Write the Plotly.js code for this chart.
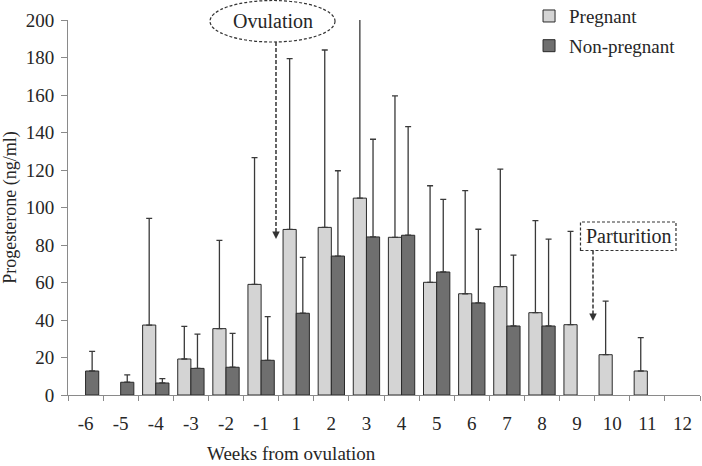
<!DOCTYPE html>
<html>
<head>
<meta charset="utf-8">
<script src="https://cdn.plot.ly/plotly-3.0.1.min.js"></script>
<style>html,body{margin:0;padding:0;background:#fff;}#chart{width:702px;height:466px;}</style>
</head>
<body>
<div id="chart"></div>
<script>
// Weeks from ovulation (categories)
var weeks = ['-6','-5','-4','-3','-2','-1','1','2','3','4','5','6','7','8','9','10','11','12'];
// Pregnant: mean progesterone (ng/ml) and SD (upper error bar)
var pregnantMean = [null, null, 37.3, 19.2, 35.4, 59.0, 88.3, 89.4, 105.0, 84.1, 60.1, 54.0, 57.8, 43.9, 37.5, 21.5, 12.8, null];
var pregnantSD   = [null, null, 56.9, 17.4, 47.1, 67.6, 91.1, 94.6, 110.0, 75.4, 51.5, 55.0, 62.7, 49.1, 49.8, 28.6, 17.8, null];
// Non-pregnant: mean progesterone (ng/ml) and SD
var nonPregnantMean = [12.8, 6.8, 6.4, 14.2, 14.8, 18.5, 43.6, 74.1, 84.3, 85.2, 65.6, 49.1, 36.8, 36.8, null, null, null, null];
var nonPregnantSD   = [10.5, 3.9, 2.3, 18.3, 18.1, 23.3, 29.8, 45.5, 52.1, 57.9, 38.7, 39.3, 37.8, 46.3, null, null, null, null];
var yTicks = [0, 20, 40, 60, 80, 100, 120, 140, 160, 180, 200];

function zeros(a){ return a.map(function(v){ return v === null ? null : 0; }); }

var FONT = 'Liberation Serif, Times New Roman, serif';
var TXT = '#262626';

var traces = [
  {
    type: 'bar', name: 'Pregnant', x: weeks, y: pregnantMean,
    legendgroup: 'p',
    marker: {color: '#d4d4d4', line: {color: '#2a2a2a', width: 1}},
    error_y: {type: 'data', symmetric: false, array: pregnantSD, arrayminus: zeros(pregnantSD),
              color: '#3a3a3a', thickness: 1.3, width: 3}
  },
  {
    type: 'bar', name: 'Non-pregnant', x: weeks, y: nonPregnantMean,
    legendgroup: 'np',
    marker: {color: '#6f6f6f', line: {color: '#2a2a2a', width: 1}},
    error_y: {type: 'data', symmetric: false, array: nonPregnantSD, arrayminus: zeros(nonPregnantSD),
              color: '#3a3a3a', thickness: 1.3, width: 3}
  }
];

var layout = {
  width: 702, height: 466,
  margin: {l: 68, r: 2, t: 20, b: 71, autoexpand: false},
  paper_bgcolor: '#ffffff', plot_bgcolor: '#ffffff',
  font: {family: FONT, size: 19, color: TXT},
  barmode: 'group', bargap: 0.25, bargroupgap: 0,
  showlegend: true,
  legend: {x: 0.7295, y: 1.061, xanchor: 'left', yanchor: 'top', bgcolor: 'rgba(0,0,0,0)',
           font: {family: FONT, size: 19, color: TXT}, traceorder: 'grouped', tracegroupgap: 2},
  xaxis: {
    type: 'category', categoryorder: 'array', categoryarray: weeks,
    tickson: 'boundaries', ticks: 'outside', ticklen: 5, tickcolor: '#8a8a8a', tickwidth: 1,
    showline: true, linecolor: '#8a8a8a', linewidth: 1, showgrid: false, zeroline: false,
    ticklabelstandoff: 11,
    tickfont: {family: FONT, size: 19, color: TXT}
  },
  yaxis: {
    range: [0, 200], tickvals: yTicks, ticks: 'outside', ticklen: 6, tickcolor: '#8a8a8a',
    showline: true, linecolor: '#8a8a8a', linewidth: 1, showgrid: false, zeroline: false,
    ticklabelstandoff: 3,
    tickfont: {family: FONT, size: 19, color: TXT},
    title: {text: 'Progesterone (ng/ml)', font: {family: FONT, size: 18, color: TXT}, standoff: 5}
  },
  shapes: [
    {type: 'circle', xref: 'paper', yref: 'paper', x0: 0.2247, x1: 0.4225, y0: 0.9413, y1: 1.052,
     line: {color: '#333', width: 1.2, dash: '3px,2px'}},
    {type: 'line', xref: 'paper', yref: 'paper', x0: 0.3291, x1: 0.3291, y0: 0.9413, y1: 0.432,
     line: {color: '#333', width: 1.5, dash: '4px,2px'}},
    {type: 'rect', xref: 'paper', yref: 'paper', x0: 0.8109, x1: 0.962, y0: 0.3853, y1: 0.4613,
     line: {color: '#333', width: 1.2, dash: '3px,2px'}},
    {type: 'line', xref: 'paper', yref: 'paper', x0: 0.8307, x1: 0.8307, y0: 0.3853, y1: 0.215,
     line: {color: '#333', width: 1.5, dash: '4px,2px'}}
  ],
  annotations: [
    {text: 'Ovulation', xref: 'paper', yref: 'paper', x: 0.3236, y: 0.9973, showarrow: false,
     xanchor: 'center', yanchor: 'middle', font: {family: FONT, size: 20, color: TXT}},
    {text: '', xref: 'paper', yref: 'paper', x: 0.3291, y: 0.416, showarrow: true,
     ax: 0, ay: -8, arrowhead: 2, arrowsize: 1, arrowwidth: 1.5, arrowcolor: '#333', standoff: 0},
    {text: 'Parturition', xref: 'paper', yref: 'paper', x: 0.8869, y: 0.424, showarrow: false,
     xanchor: 'center', yanchor: 'middle', font: {family: FONT, size: 20, color: TXT}},
    {text: '', xref: 'paper', yref: 'paper', x: 0.8307, y: 0.1973, showarrow: true,
     ax: 0, ay: -8, arrowhead: 2, arrowsize: 1, arrowwidth: 1.5, arrowcolor: '#333', standoff: 0},
    {text: 'Weeks from ovulation', xref: 'paper', yref: 'paper', x: 0.354, y: -0.1893, showarrow: false,
     xanchor: 'center', yanchor: 'bottom', font: {family: FONT, size: 19, color: TXT}}
  ]
};

Plotly.newPlot('chart', traces, layout, {displayModeBar: false, staticPlot: true});
</script>
</body>
</html>
